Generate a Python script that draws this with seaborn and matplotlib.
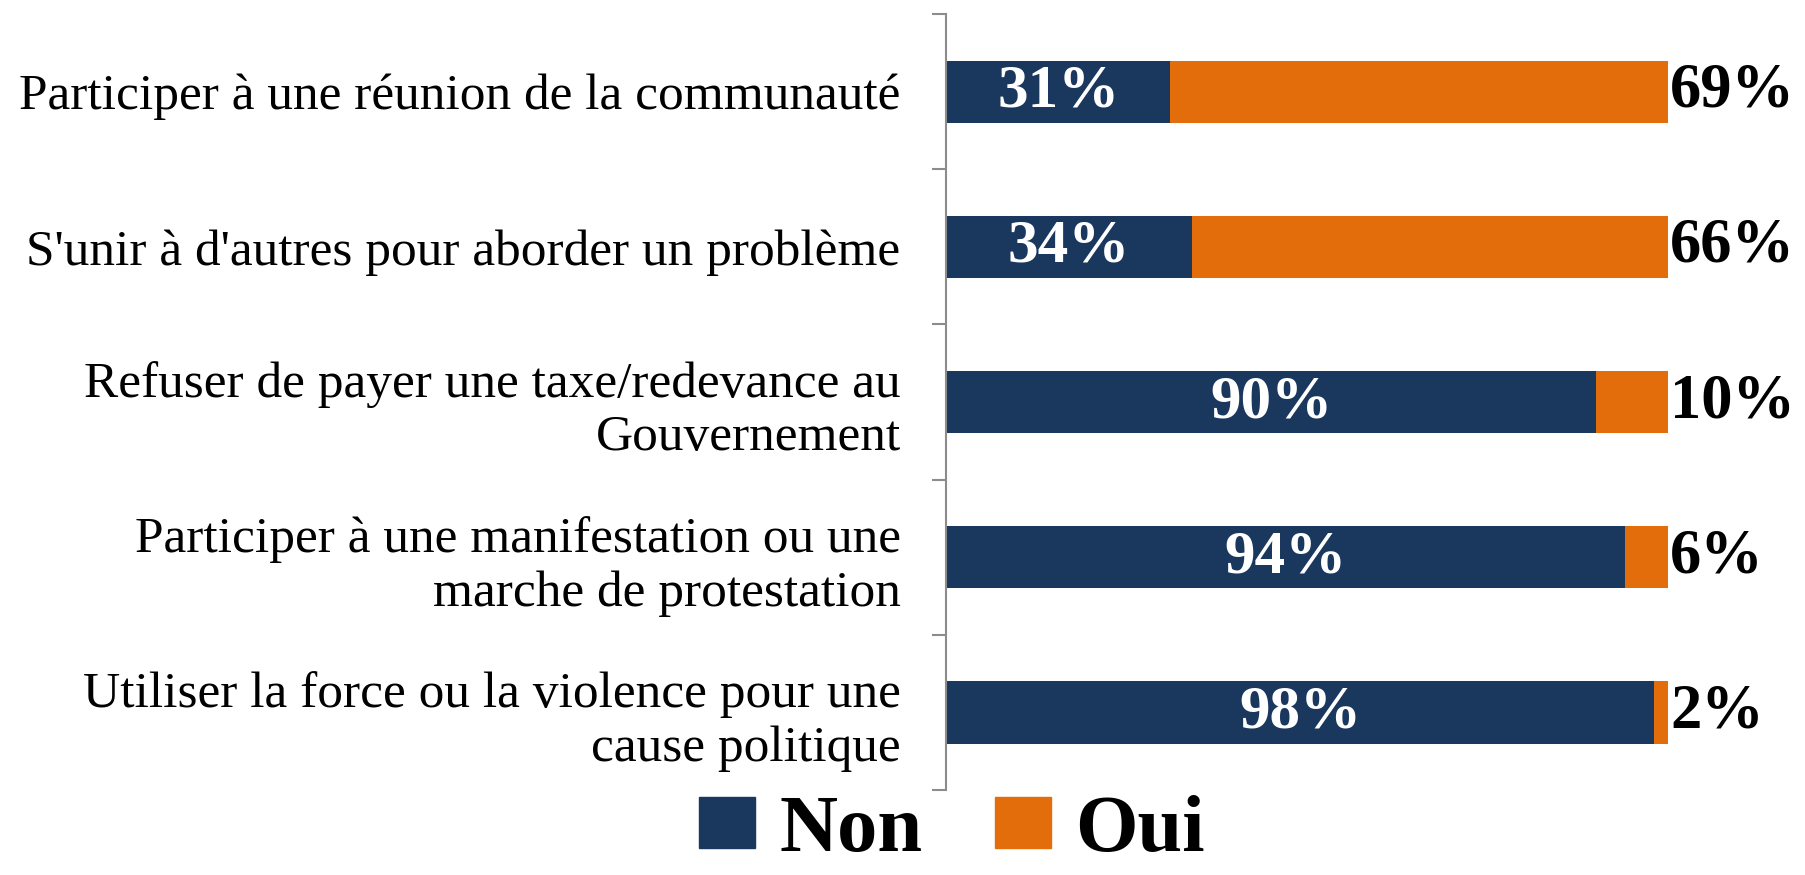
import numpy as np
import pandas as pd
import matplotlib.pyplot as plt
import seaborn as sns
from matplotlib.patches import Patch

categories = [
    "Participer à une réunion de la communauté",
    "S'unir à d'autres pour aborder un problème",
    "Refuser de payer une taxe/redevance au\nGouvernement",
    "Participer à une manifestation ou une\nmarche de protestation",
    "Utiliser la force ou la violence pour une\ncause politique",
]
non_vals = [31, 34, 90, 94, 98]
oui_vals = [69, 66, 10, 6, 2]

NAVY = "#1A375E"
ORANGE = "#E36C0B"

sns.set_style("white")
plt.rcParams['font.family'] = ['Liberation Serif', 'DejaVu Serif']
plt.rcParams['text.color'] = 'black'
plt.rcParams['ytick.labelcolor'] = 'black'

df = pd.DataFrame({"cat": categories, "Non": non_vals, "Oui": oui_vals})
df["total"] = df["Non"] + df["Oui"]

fig = plt.figure(figsize=(18.06, 8.75), dpi=100)
ax = fig.add_axes([0.524, 0.097, 0.3996, 0.887])

sns.barplot(data=df, y="cat", x="total", color=ORANGE, orient="h",
            width=0.4, ax=ax, saturation=1, linewidth=0)
sns.barplot(data=df, y="cat", x="Non", color=NAVY, orient="h",
            width=0.4, ax=ax, saturation=1, linewidth=0)

for i, (n, o) in enumerate(zip(non_vals, oui_vals)):
    ax.text(n / 2, i, f"{n}%", ha="center", va="center", color="white",
            fontsize=44, fontweight="bold")
    ax.text(n + o + 0.3, i, f"{o}%", ha="left", va="center", color="black",
            fontsize=45, fontweight="bold")

ax.set_xlim(0, 100)
ax.set_ylim(len(categories) - 0.5, -0.5)
ax.set_xlabel("")
ax.set_ylabel("")
ax.set_xticks([])

ax.set_yticks(np.arange(len(categories)))
ax.set_yticklabels(categories, fontsize=37, ha="right", linespacing=1.2)
ax.tick_params(axis="y", which="major", length=0, pad=33)
# band boundary ticks
ax.set_yticks(np.arange(len(categories) + 1) - 0.5, minor=True)
ax.tick_params(axis="y", which="minor", left=True, length=10, color="#8c8c8c",
               width=1.5, direction="out")

for s in ["top", "right", "bottom"]:
    ax.spines[s].set_visible(False)
ax.spines["left"].set_color("#8c8c8c")
ax.spines["left"].set_linewidth(1.5)

handles = [Patch(color=NAVY, label="Non"), Patch(color=ORANGE, label="Oui")]
fig.legend(handles=handles, loc="center", bbox_to_anchor=(0.527, 0.05),
           ncol=2, frameon=False, prop={"size": 58, "weight": "bold"},
           handlelength=0.7, handleheight=0.6, handletextpad=0.3,
           columnspacing=0.9)

fig.savefig("out.png", dpi=100)
